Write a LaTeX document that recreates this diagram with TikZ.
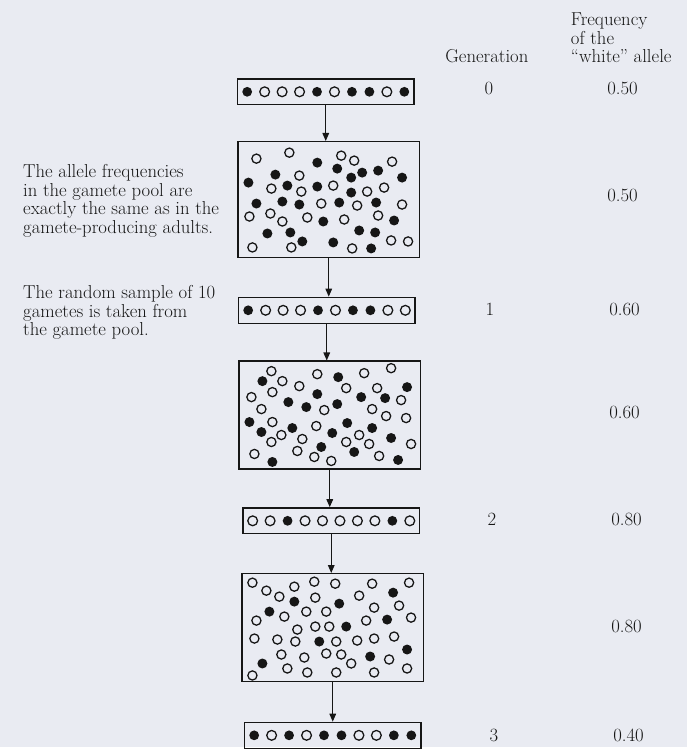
\documentclass[tikz,border=0pt]{standalone}
\usepackage{fontspec}
\usepackage{tikz}
\usetikzlibrary{arrows.meta}
\definecolor{PaperTint}{HTML}{E9EBF2}
\definecolor{InkBlack}{HTML}{161616}

\tikzset{
  bodytext/.style={font=\fontsize{16pt}{15.8pt}\selectfont, inner sep=0pt, text=InkBlack},
  note/.style={bodytext, align=left, anchor=north west},
  strip/.style={draw=InkBlack, line width=1.2pt, minimum width=5.31cm, minimum height=0.78cm, inner sep=0pt},
  pool/.style={draw=InkBlack, line width=1.2pt, minimum width=5.45cm, inner sep=0pt},
  dotw/.style={draw=InkBlack, line width=1.1pt},
  dotb/.style={fill=InkBlack},
  flow/.style={draw=InkBlack, line width=0.9pt, -{Triangle[length=0.24cm,width=0.2cm]}},
}

% ten gametes in a row, centred in a strip node
\newcommand{\gameterow}[2]{%
  \begin{scope}[shift={(#1.center)}]
    \foreach \s [count=\i from 0] in {#2}
      \path[\s] (\i*17.5-78.75,0) circle[radius=4.9];
  \end{scope}}

\begin{document}
\begin{tikzpicture}[x=0.03cm, y=-0.03cm]
\fill[PaperTint] (0,0) rectangle (689,749);

% column heads
\node[bodytext, anchor=base] (genhead) at (488,63) {Generation};
\node[note] (freqhead) at (572,13) {Frequency\\of the\\``white'' allele};

% side notes
\node[note] (notepool) at (23,165) {The allele frequencies\\in the gamete pool are\\exactly the same as in the\\gamete-producing adults.};
\node[note] (notesample) at (23,286) {The random sample of 10\\gametes is taken from\\the gamete pool.};

% samples and pools
\node[strip] (strip0) at (326.5,92) {};
\node[pool, minimum height=3.48cm] (pool1) at (329.5,200) {};
\node[strip] (strip1) at (327.5,311) {};
\node[pool, minimum height=3.24cm] (pool2) at (330.5,416) {};
\node[strip] (strip2) at (332,522) {};
\node[pool, minimum height=3.24cm] (pool3) at (333.5,629) {};
\node[strip] (strip3) at (333.5,737) {};

\gameterow{strip0}{dotb,dotw,dotw,dotw,dotb,dotw,dotb,dotb,dotw,dotb}
\gameterow{strip1}{dotb,dotw,dotw,dotw,dotb,dotw,dotb,dotb,dotw,dotw}
\gameterow{strip2}{dotw,dotw,dotb,dotw,dotw,dotw,dotw,dotw,dotb,dotw}
\gameterow{strip3}{dotb,dotw,dotb,dotw,dotb,dotb,dotw,dotw,dotb,dotb}

% gamete pool 1
\foreach \x/\y in {257/159,290/153,342/156,355/161,393/162,300/176,272/189,302/192,334/186,368/192,
  385/188,322/204,358/206,403/205,250/217,271/214,283/222,308/218,345/220,379/216,
  253/248,292/248,353/249,392/241,409/242}
  \path[dotw] (\x,\y) circle[radius=4.6];
\foreach \x/\y in {318/163,338/169,379/171,363/173,352/178,403/178,249/183,276/175,288/186,318/187,
  352/193,257/204,283/202,300/205,340/203,377/203,324/222,395/221,268/234,291/233,
  303/242,334/243,360/231,376/233,372/249}
  \path[dotb] (\x,\y) circle[radius=5];

% gamete pool 2
\foreach \x/\y in {272/372,283/382,300/387,318/375,365/374,392/369,273/393,252/398,347/389,378/389,
  402/401,262/410,325/411,373/410,387/417,407/419,273/423,317/427,282/436,272/443,
  303/440,360/436,347/443,370/445,412/445,255/455,298/452,315/458,332/462,380/457}
  \path[dotw] (\x,\y) circle[radius=4.6];
\foreach \x/\y in {263/382,339/378,408/388,318/395,362/398,386/399,289/403,307/408,338/405,250/423,
  262/433,293/429,333/434,348/424,373/429,392/439,322/448,355/453,273/463,399/461}
  \path[dotb] (\x,\y) circle[radius=5];

% gamete pool 3
\foreach \x/\y in {253/584,267/592,280/598,295/588,315/583,336/585,373/585,410/584,316/599,360/597,
  400/607,375/609,285/618,257/622,307/613,327/613,367/622,412/619,298/631,316/628,
  330/628,255/640,278/641,296/643,337/643,358/642,375/640,395/638,282/656,305/659,
  327/655,342/656,352/665,390/661,253/677,288/670,308/674,337/674,375/674,408/670}
  \path[dotw] (\x,\y) circle[radius=4.6];
\foreach \x/\y in {394/594,295/603,340/605,270/613,388/621,347/628,320/643,408/651,371/658,263/665}
  \path[dotb] (\x,\y) circle[radius=5];

% arrows
\draw[flow] (strip0.south) -- (strip0.south |- pool1.north);
\draw[flow] (pool1.south) -- (pool1.south |- strip1.north);
\draw[flow] (strip1.south) -- (strip1.south |- pool2.north);
\draw[flow] (pool2.south) -- (pool2.south |- strip2.north);
\draw[flow] (strip2.south) -- (strip2.south |- pool3.north);
\draw[flow] (pool3.south) -- (pool3.south |- strip3.north);

% generation and frequency columns
\node[bodytext, anchor=base] (gen0) at (490,95) {0};
\node[bodytext, anchor=base] (freq0) at (624,95) {0.50};
\node[bodytext, anchor=base] (freqp1) at (624,202) {0.50};
\node[bodytext, anchor=base] (gen1) at (491,316) {1};
\node[bodytext, anchor=base] (freq1) at (626,316) {0.60};
\node[bodytext, anchor=base] (freqp2) at (626,419) {0.60};
\node[bodytext, anchor=base] (gen2) at (493,527) {2};
\node[bodytext, anchor=base] (freq2) at (628,527) {0.80};
\node[bodytext, anchor=base] (freqp3) at (628,634) {0.80};
\node[bodytext, anchor=base] (gen3) at (495,743) {3};
\node[bodytext, anchor=base] (freq3) at (630,743) {0.40};
\end{tikzpicture}
\end{document}
